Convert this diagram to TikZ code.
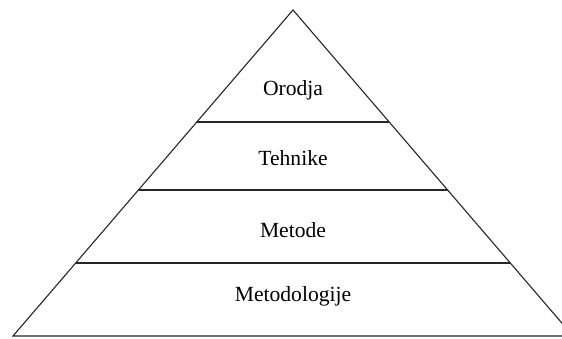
\documentclass[tikz,border=0pt]{standalone}
\usepackage{fontspec}
\setmainfont{Liberation Serif}
\usepackage{xcolor}
\usepackage{tikz}
\usetikzlibrary{calc}

\begin{document}
\begin{tikzpicture}[
      x=0.5pt, y=-0.5pt,
      edge/.style={draw=black!85, line width=0.55pt},
      level/.style={anchor=base, inner sep=0pt, font=\fontsize{10.8}{13}\selectfont}
  ]
  \useasboundingbox (0,0) rectangle (562,338);
  \clip (0,0) rectangle (562,338);
  % Corners
  \coordinate (apex) at (293,10);
  \coordinate (bl) at (13,336);
  \coordinate (br) at (573,336);
  % Pyramid
  \draw[edge] (bl) -- (apex) -- (br) -- cycle;
  \draw[edge] ($(apex)!0.3436!(bl)$) -- ($(apex)!0.3436!(br)$);
  \draw[edge] ($(apex)!0.552!(bl)$) -- ($(apex)!0.552!(br)$);
  \draw[edge] ($(apex)!0.776!(bl)$) -- ($(apex)!0.776!(br)$);
  % Labels
  \node[level] (orodja) at (293,95) {Orodja};
  \node[level] (tehnike) at (293,165) {Tehnike};
  \node[level] (metode) at (293,237) {Metode};
  \node[level] (metodologije) at (293,301) {Metodologije};
\end{tikzpicture}
\end{document}
